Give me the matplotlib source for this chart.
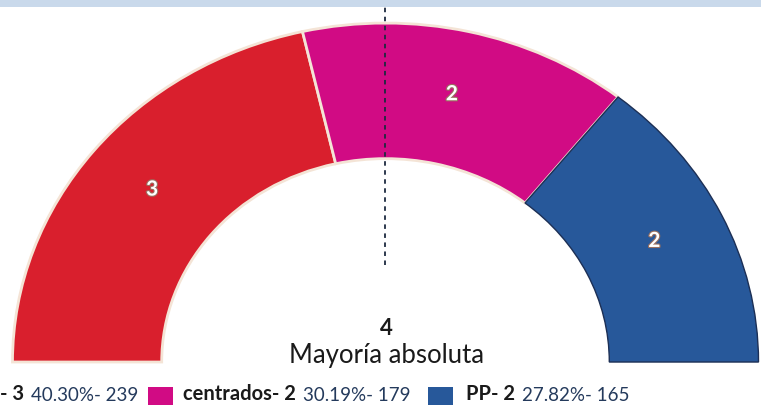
import matplotlib.pyplot as plt
from matplotlib.patches import Rectangle
import matplotlib.patheffects as pe
import numpy as np

# seats per party (the first name is cut off in the source picture)
names = ["", "centrados", "PP"]
seats = [3, 2, 2]
pcts = ["40.30%", "30.19%", "27.82%"]
votes = [239, 179, 165]
colors = ["#d91f2d", "#d10b84", "#27589a"]
majority = 4

plt.rcParams["font.family"] = ["Lato", "DejaVu Sans"]

fig = plt.figure(figsize=(7.61, 4.05), dpi=100)
fig.patch.set_facecolor("white")
ax = fig.add_axes([0, 0, 1, 1])

# half donut: add an invisible wedge for the lower half
vals = seats + [sum(seats)]
wedges, _ = ax.pie(vals, colors=colors + ["none"], startangle=180,
                   counterclock=False, radius=1,
                   wedgeprops=dict(width=0.4, edgecolor="#f4e4d6", linewidth=2))
wedges[-1].set_visible(False)
wedges[2].set_edgecolor("#1c2f55")
wedges[2].set_linewidth(1)

# seat count labels in the middle of each ring segment
bounds = 180 - np.cumsum([0] + seats) * 180 / sum(seats)
for i, s in enumerate(seats):
    a = np.deg2rad((bounds[i] + bounds[i + 1]) / 2)
    ax.text(0.8 * np.cos(a), 0.8 * np.sin(a) + 0.01, str(s), ha="center", va="center",
            color="white", fontsize=15, fontweight="bold",
            path_effects=[pe.withStroke(linewidth=1.6, foreground="#9a7060")])

ax.set_aspect("auto")
ax.set_xlim(-1.0335, 1.0067)
ax.set_ylim(-0.1268, 1.068)
ax.axis("off")

ax.axvline(0, ymin=0.346, ymax=0.983, color="#1d2a40", lw=1.3,
           linestyle=(0, (2.5, 2.5)))

ax.text(0.003, 0.098, str(majority), ha="center", va="center", fontsize=16,
        fontweight="bold", color="#1a1a1a")
ax.text(0.003, 0.018, "Mayoría absoluta", ha="center", va="center", fontsize=18.5,
        color="#1a1a1a")

# overlay in pixel units for the top band and the legend
lg = fig.add_axes([0, 0, 1, 1])
lg.set_xlim(0, 761)
lg.set_ylim(405, 0)
lg.axis("off")
lg.patch.set_alpha(0)
lg.add_patch(Rectangle((0, 0), 761, 7, color="#c9d9eb", lw=0))

name_x = [0, 183, 466]
box_x = [None, 148, 428]
for i in range(len(seats)):
    if box_x[i] is not None:
        lg.add_patch(Rectangle((box_x[i], 387), 25, 25, color=colors[i], lw=0))
    t = lg.text(name_x[i], 404, f"{names[i]}- {seats[i]}", fontsize=14.5,
                fontweight="bold", color="#1a1a1a", va="bottom")
    fig.canvas.draw()
    bb = t.get_window_extent()
    lg.text(bb.x1 + 7, 404, f"{pcts[i]}- {votes[i]}", fontsize=13.5,
            color="#243a5c", va="bottom")

fig.savefig("out.png", dpi=100)
